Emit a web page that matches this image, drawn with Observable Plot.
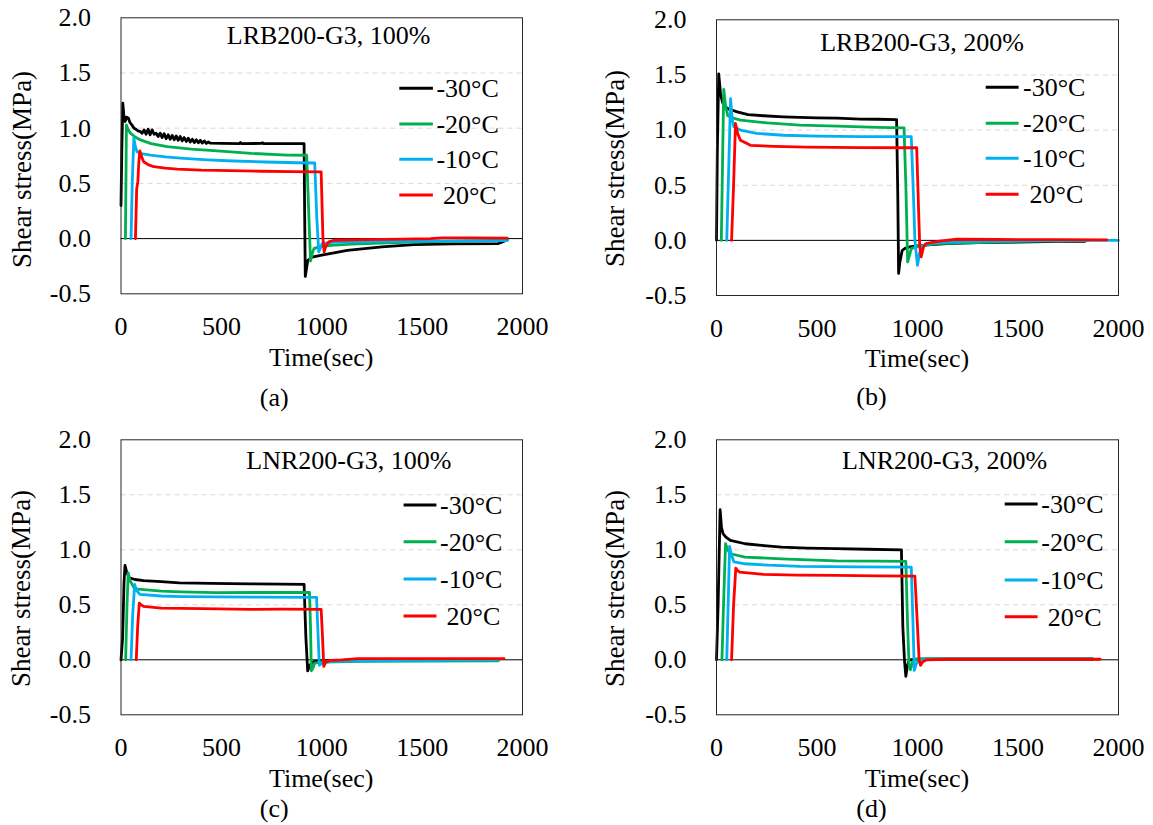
<!DOCTYPE html>
<html><head><meta charset="utf-8">
<script src="https://cdn.jsdelivr.net/npm/d3@7"></script>
<script src="https://cdn.jsdelivr.net/npm/@observablehq/plot@0.6"></script>
<style>
html,body{margin:0;padding:0;background:#fff;}
#root{position:relative;width:1153px;height:825px;overflow:hidden;background:#fff;}
.panel{position:absolute;}
#overlay{position:absolute;left:0;top:0;pointer-events:none;}
#root svg, #root text{font-family:'Liberation Serif','Times New Roman',serif !important;}
</style></head><body><div id="root"></div>
<script>
// ---------- data (time in sec, shear stress in MPa) ----------
const seriesNames = ["-30°C", "-20°C", "-10°C", "20°C"];
const seriesColors = ["#000000", "#00B050", "#00B0F0", "#FF0000"];
const panelTitles = ["LRB200-G3, 100%", "LRB200-G3, 200%", "LNR200-G3, 100%", "LNR200-G3, 200%"];
const captions = ["(a)", "(b)", "(c)", "(d)"];
const xTicks = [0, 500, 1000, 1500, 2000];
const yTicks = [-0.5, 0, 0.5, 1.0, 1.5, 2.0];
const gridValues = [0.5, 1.0, 1.5];

// (a) LRB200-G3, 100%
const a_m30 = [[0,0.30],[4,0.8],[9,1.227],[14,1.12],[20,1.06],[28,1.1],[37,1.09],[45,1.05],[54,1.03],[65,1.0],[75,0.99],[85,0.975],[97,0.97],
  [105,0.955],[115,0.985],[125,0.945],[135,0.99],[145,0.94],[155,0.985],[165,0.945],[175,0.955],[185,0.925],[195,0.955],[205,0.915],[215,0.95],
  [225,0.905],[235,0.94],[245,0.9],[255,0.935],[265,0.895],[275,0.93],[285,0.89],[295,0.925],[305,0.885],[315,0.915],[325,0.88],[335,0.91],
  [345,0.875],[355,0.9],[365,0.87],[375,0.895],[385,0.868],[395,0.89],[405,0.865],[415,0.885],[425,0.862],[435,0.875],[446,0.864],
  [500,0.862],[590,0.86],[595,0.87],[600,0.86],[700,0.862],[705,0.868],[710,0.86],[800,0.86],[912,0.86],[915,0.2],[918,-0.343],[930,-0.2],
  [952,-0.167],[1000,-0.15],[1127,-0.106],[1300,-0.075],[1458,-0.055],[1650,-0.048],[1880,-0.045],[1900,-0.03],[1924,-0.01]];
const a_m20 = [[22,0],[25,0.6],[27,1.03],[35,0.99],[47,0.955],[70,0.92],[97,0.894],[150,0.86],[230,0.833],[350,0.81],[479,0.794],[650,0.772],
  [828,0.757],[925,0.755],[934,0.3],[944,-0.203],[952,-0.14],[961,-0.091],[978,-0.08],[1044,-0.061],[1150,-0.05],[1292,-0.04],[1450,-0.032],
  [1625,-0.025],[1800,-0.018],[1924,-0.015]];
const a_m10 = [[50,0],[56,0.5],[64,0.909],[72,0.83],[80,0.787],[100,0.77],[147,0.757],[220,0.74],[313,0.727],[430,0.714],[561,0.703],[720,0.694],
  [877,0.687],[965,0.685],[975,0.2],[985,-0.12],[994,-0.08],[1002,-0.045],[1050,-0.035],[1150,-0.03],[1300,-0.025],[1500,-0.022],[1700,-0.02],[1924,-0.018]];
const a_20 = [[72,0],[78,0.45],[84,0.52],[89,0.7],[94,0.794],[103,0.74],[113,0.696],[135,0.67],[163,0.651],[220,0.638],[280,0.63],[400,0.62],
  [545,0.615],[700,0.61],[850,0.607],[997,0.605],[1006,0.0],[1012,-0.12],[1020,-0.07],[1035,-0.03],[1060,-0.015],[1208,-0.01],[1400,-0.005],
  [1542,0.0],[1600,0.007],[1750,0.006],[1924,0.005]];

// (b) LRB200-G3, 200%
const b_m30 = [[0,0],[4,0.8],[11,1.51],[20,1.33],[30,1.25],[45,1.21],[60,1.19],[80,1.18],[103,1.165],[157,1.14],[233,1.13],[333,1.12],[415,1.115],
  [500,1.11],[600,1.108],[716,1.1],[800,1.098],[896,1.095],[902,0.4],[906,-0.30],[912,-0.2],[924,-0.09],[940,-0.07],[960,-0.06],[1000,-0.05],
  [1051,-0.04],[1150,-0.03],[1300,-0.02],[1500,-0.015],[1700,-0.01],[1833,-0.008]];
const b_m20 = [[24,0],[30,0.7],[36,1.37],[45,1.22],[56,1.13],[80,1.11],[119,1.09],[252,1.065],[415,1.045],[600,1.035],[800,1.025],[933,1.02],
  [942,0.5],[951,-0.196],[958,-0.15],[969,-0.075],[990,-0.06],[1050,-0.04],[1100,-0.03],[1300,-0.02],[1500,-0.01],[1700,-0.005],[1850,0]];
const b_m10 = [[51,0],[60,0.6],[70,1.285],[78,1.1],[86,1.03],[119,1.0],[200,0.97],[333,0.953],[500,0.945],[716,0.94],[969,0.94],[980,0.4],
  [987,0.0],[1000,-0.226],[1010,-0.12],[1024,-0.05],[1060,-0.03],[1100,-0.02],[1300,-0.01],[1500,-0.005],[1700,0],[2000,0]];
const b_20 = [[75,0],[85,0.5],[94.5,1.06],[105,0.97],[119,0.907],[169,0.862],[285,0.853],[450,0.845],[716,0.84],[996,0.84],[1005,0.3],
  [1011,-0.05],[1018,-0.15],[1030,-0.06],[1042,-0.03],[1100,-0.01],[1142,0.0],[1196,0.01],[1400,0.008],[1700,0.006],[1942,0.005]];

// (c) LNR200-G3, 100%
const c_m30 = [[0,0],[8,0.2],[15,0.7],[20,0.858],[28,0.8],[41,0.745],[70,0.73],[112,0.72],[200,0.71],[290,0.70],[450,0.695],[645,0.69],
  [800,0.688],[912,0.685],[921,0.2],[930,-0.1],[940,-0.05],[957,-0.02],[990,-0.01],[1100,-0.005],[1300,0],[1600,0],[1880,0]];
const c_m20 = [[23,0],[30,0.5],[36,0.79],[45,0.72],[68,0.645],[100,0.64],[200,0.625],[300,0.618],[468,0.61],[700,0.612],[939,0.612],
  [944,0.3],[948,-0.1],[955,-0.08],[965,-0.03],[1000,-0.02],[1200,-0.015],[1500,-0.012],[1880,-0.01]];
const c_m10 = [[50,0],[58,0.4],[68,0.685],[78,0.63],[94,0.594],[200,0.58],[300,0.575],[468,0.572],[700,0.57],[974,0.568],[980,0.3],
  [988,-0.05],[1000,-0.03],[1050,-0.015],[1200,-0.01],[1500,-0.005],[1880,0]];
const c_20 = [[76,0],[83,0.3],[91,0.515],[100,0.5],[112,0.485],[200,0.47],[400,0.465],[645,0.458],[800,0.46],[997,0.458],[1004,0.2],
  [1010,-0.06],[1020,-0.02],[1040,-0.005],[1100,0.0],[1179,0.01],[1400,0.01],[1700,0.01],[1908,0.01]];

// (d) LNR200-G3, 200%
const d_m30 = [[0,0],[8,0.5],[18,1.364],[25,1.2],[33,1.145],[50,1.11],[69,1.085],[142,1.055],[250,1.035],[324,1.024],[450,1.015],[596,1.01],
  [750,1.005],[920,1.0],[927,0.3],[935,0.0],[942,-0.15],[950,-0.05],[960,0.0],[1000,0.005],[1200,0.005],[1500,0.005],[1870,0.005]];
const d_m20 = [[27,0],[35,0.5],[45,1.055],[55,1.0],[69,0.964],[142,0.933],[324,0.918],[596,0.90],[800,0.897],[942,0.895],[951,0.3],
  [958,-0.05],[965,-0.09],[975,-0.02],[990,0.005],[1050,0.01],[1300,0.01],[1600,0.01],[1870,0.01]];
const d_m10 = [[51,0],[58,0.5],[65,1.03],[75,0.95],[87,0.89],[142,0.873],[260,0.86],[415,0.85],[700,0.845],[969,0.842],[978,0.3],
  [984,-0.097],[995,-0.03],[1010,0.0],[1100,0.005],[1500,0.005],[1870,0.005]];
const d_20 = [[75,0],[85,0.5],[96,0.833],[105,0.81],[115,0.797],[233,0.776],[400,0.77],[596,0.767],[800,0.763],[987,0.76],[1000,0.3],
  [1008,0.0],[1015,-0.05],[1025,-0.02],[1045,0.0],[1142,0.005],[1500,0.005],[1909,0.005]];

const panelSeries = [
  [a_m30, a_m20, a_m10, a_20],
  [b_m30, b_m20, b_m10, b_20],
  [c_m30, c_m20, c_m10, c_20],
  [d_m30, d_m20, d_m10, d_20]
];

// ---------- layout ----------
const FONT = "'Liberation Serif','Times New Roman',serif";
const layouts = [
  {left:0, top:0, w:576, h:412, ml:120.5, mr:54, mt:17.3, mb:118.7,
   title:[328.6,44], leg:{x1:399.3,x2:432.9,tx:436.4,ys:[88.3,124,159.3,195]}, yt:[31,169.5], xt:[321.2,365.5], cap:[274.3,406]},
  {left:576, top:0, w:577, h:412, ml:140, mr:35, mt:19.3, mb:117,
   title:[922,51], leg:{x1:985.7,x2:1018.6,tx:1023,ys:[87.3,123.3,158.3,194.3]}, yt:[624,168.5], xt:[917,366.5], cap:[871.5,405]},
  {left:0, top:420, w:576, h:405, ml:120.5, mr:54, mt:19.3, mb:110.7,
   title:[348.8,469], leg:{x1:403.6,x2:436.4,tx:440,ys:[505,541.7,579,616]}, yt:[30,588.5], xt:[321.2,786.5], cap:[274.3,816.5]},
  {left:576, top:420, w:577, h:405, ml:140, mr:35, mt:19.3, mb:110.7,
   title:[944.6,469], leg:{x1:1004.7,x2:1037.6,tx:1041.3,ys:[504,541.7,580,616.7]}, yt:[624,588.5], xt:[917,786.5], cap:[871.5,816.5]}
];

const root = document.getElementById("root");

panelSeries.forEach((series, i) => {
  const L = layouts[i];
  const rows = [];
  series.forEach((arr, k) => arr.forEach(([t, v]) => rows.push({t, v, s: seriesNames[k]})));
  const chart = Plot.plot({
    width: L.w, height: L.h,
    marginLeft: L.ml, marginRight: L.mr, marginTop: L.mt, marginBottom: L.mb,
    style: {fontFamily: FONT, fontSize: "26px", color: "#000", background: "transparent", overflow: "visible"},
    x: {domain: [0, 2000], ticks: xTicks, tickSize: 0, tickPadding: 23, tickFormat: d => String(d), label: null},
    y: {domain: [-0.5, 2.0], ticks: yTicks, tickSize: 0, tickPadding: 30, tickFormat: d => d.toFixed(1), label: null},
    color: {domain: seriesNames, range: seriesColors},
    marks: [
      Plot.ruleY(gridValues, {stroke: "#d9d9d9", strokeWidth: 1, strokeDasharray: "5,4"}),
      Plot.ruleY([0], {stroke: "#000", strokeWidth: 1}),
      Plot.line(rows, {x: "t", y: "v", z: "s", stroke: "s", strokeWidth: 2.8, strokeLinejoin: "round", strokeLinecap: "round"}),
      Plot.frame({stroke: "#262626", strokeWidth: 1})
    ]
  });
  chart.classList.add("panel");
  chart.style.left = L.left + "px";
  chart.style.top = L.top + "px";
  root.appendChild(chart);
});

// ---------- annotations (titles, legends, axis titles, captions) ----------
const ov = d3.select(root).append("svg").attr("id", "overlay")
  .attr("width", 1153).attr("height", 825)
  .style("font-family", FONT).style("font-size", "26px").attr("fill", "#000");

layouts.forEach((L, i) => {
  ov.append("text").attr("x", L.title[0]).attr("y", L.title[1]).attr("text-anchor", "middle").text(panelTitles[i]);
  seriesNames.forEach((name, k) => {
    const y = L.leg.ys[k];
    ov.append("line").attr("x1", L.leg.x1).attr("x2", L.leg.x2).attr("y1", y).attr("y2", y)
      .attr("stroke", seriesColors[k]).attr("stroke-width", 3);
    ov.append("text").attr("x", L.leg.tx).attr("y", y + 9).style("white-space", "pre")
      .text(name.startsWith("-") ? name : " " + name);
  });
  ov.append("text").attr("transform", `translate(${L.yt[0]},${L.yt[1]}) rotate(-90)`)
    .attr("text-anchor", "middle").style("font-size", "27px").text("Shear stress(MPa)");
  ov.append("text").attr("x", L.xt[0]).attr("y", L.xt[1]).attr("text-anchor", "middle").text("Time(sec)");
  ov.append("text").attr("x", L.cap[0]).attr("y", L.cap[1]).attr("text-anchor", "middle").text(captions[i]);
});
</script></body></html>
